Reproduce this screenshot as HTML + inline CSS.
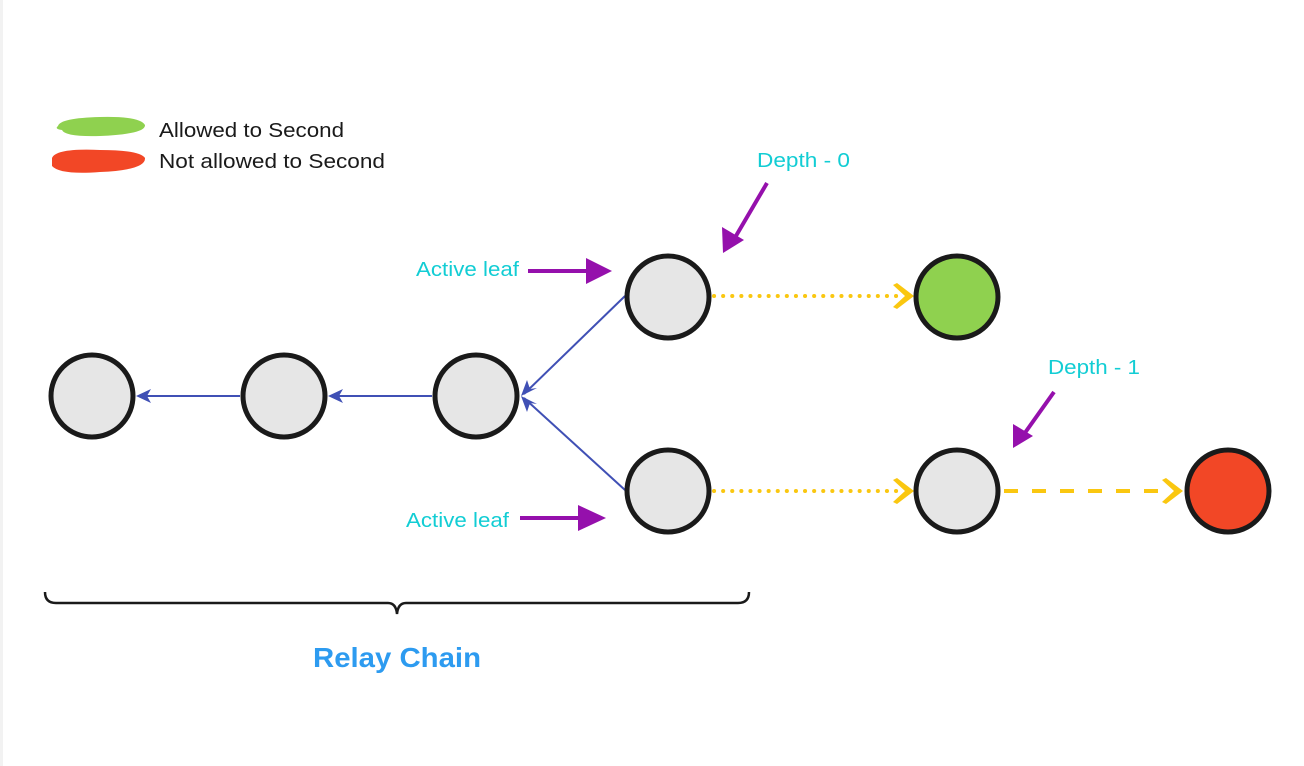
<!DOCTYPE html>
<html><head><meta charset="utf-8"><style>
html,body{margin:0;padding:0;background:#fff;}
svg{display:block;}
text{font-family:"Liberation Sans","DejaVu Sans",sans-serif;}
</style></head><body>
<svg width="1304" height="766" viewBox="0 0 1304 766" xmlns="http://www.w3.org/2000/svg">
<rect x="0" y="0" width="1304" height="766" fill="#fff"/>
<rect x="0" y="0" width="3" height="766" fill="#f2f2f2"/>
<!-- legend -->
<path d="M58,126 Q60,118 100,117 Q140,116 145,125 Q146,134 100,136 Q65,137 62,130 Q54,129 58,126Z" fill="#8fd14f"/>
<path d="M52,158 Q56,148 100,150 Q140,150 145,158 Q146,170 100,172 Q60,175 52,166Z" fill="#f24726"/>
<text x="159" y="137" font-size="20" fill="#1a1a1a" textLength="185" lengthAdjust="spacingAndGlyphs">Allowed to Second</text>
<text x="159" y="168" font-size="20" fill="#1a1a1a" textLength="226" lengthAdjust="spacingAndGlyphs">Not allowed to Second</text>
<!-- blue connectors -->
<g stroke="#4050b5" stroke-width="2" fill="none">
<line x1="240" y1="396" x2="140" y2="396"/>
<line x1="432" y1="396" x2="332" y2="396"/>
<line x1="625" y1="296" x2="524" y2="394"/>
<line x1="625" y1="490" x2="524" y2="398"/>
</g>
<g fill="#4050b5">
<polygon points="136,396 151,389 147,396 151,403"/>
<polygon points="328,396 343,389 339,396 343,403"/>
<polygon points="521,396 527,380 530,389 537,388"/>
<polygon points="521,396 537,404 530,403 527,412"/>
</g>
<!-- yellow -->
<g stroke="#fac710" stroke-width="4" stroke-linecap="round" fill="none">
<line x1="714" y1="296" x2="900" y2="296" stroke-dasharray="0.1 9"/>
<line x1="714" y1="491" x2="900" y2="491" stroke-dasharray="0.1 9"/>
<line x1="1004" y1="491" x2="1170" y2="491" stroke-dasharray="14 14" stroke-linecap="butt"/>
</g>
<g fill="#fac710">
<polygon points="893,285 897,283 914,296 897,309 893,307 905,296"/>
<polygon points="893,480 897,478 914,491 897,504 893,502 905,491"/>
<polygon points="1162,480 1166,478 1183,491 1166,504 1162,502 1174,491"/>
</g>
<!-- purple arrows -->
<g stroke="#9510ac" stroke-width="4" fill="none">
<line x1="528" y1="271" x2="590" y2="271"/>
<line x1="520" y1="518" x2="582" y2="518"/>
<line x1="767" y1="183" x2="733" y2="241"/>
<line x1="1054" y1="392" x2="1022" y2="437"/>
</g>
<g fill="#9510ac">
<polygon points="586,258 612,271 586,284"/>
<polygon points="578,505 606,518 578,531"/>
<polygon points="723,253 722,227 744,240"/>
<polygon points="1013,448 1013,424 1033,436"/>
</g>
<!-- circles -->
<g stroke="#1a1a1a" stroke-width="5">
<circle cx="92" cy="396" r="41" fill="#e6e6e6"/>
<circle cx="284" cy="396" r="41" fill="#e6e6e6"/>
<circle cx="476" cy="396" r="41" fill="#e6e6e6"/>
<circle cx="668" cy="297" r="41" fill="#e6e6e6"/>
<circle cx="668" cy="491" r="41" fill="#e6e6e6"/>
<circle cx="957" cy="297" r="41" fill="#8fd14f"/>
<circle cx="957" cy="491" r="41" fill="#e6e6e6"/>
<circle cx="1228" cy="491" r="41" fill="#f24726"/>
</g>
<!-- labels -->
<g font-size="20" fill="#12cdd4">
<text x="416" y="276" textLength="103" lengthAdjust="spacingAndGlyphs">Active leaf</text>
<text x="406" y="527" textLength="103" lengthAdjust="spacingAndGlyphs">Active leaf</text>
<text x="757" y="167" textLength="93" lengthAdjust="spacingAndGlyphs">Depth - 0</text>
<text x="1048" y="374" textLength="92" lengthAdjust="spacingAndGlyphs">Depth - 1</text>
</g>
<!-- brace -->
<path d="M45,592 Q45,603 56,603 L388,603 Q396,603 397,614 Q398,603 406,603 L738,603 Q749,603 749,592" stroke="#1a1a1a" stroke-width="2.5" fill="none"/>
<text x="313" y="667" font-size="28" font-weight="bold" fill="#2d9bf0" textLength="168" lengthAdjust="spacingAndGlyphs">Relay Chain</text>
</svg>
</body></html>
